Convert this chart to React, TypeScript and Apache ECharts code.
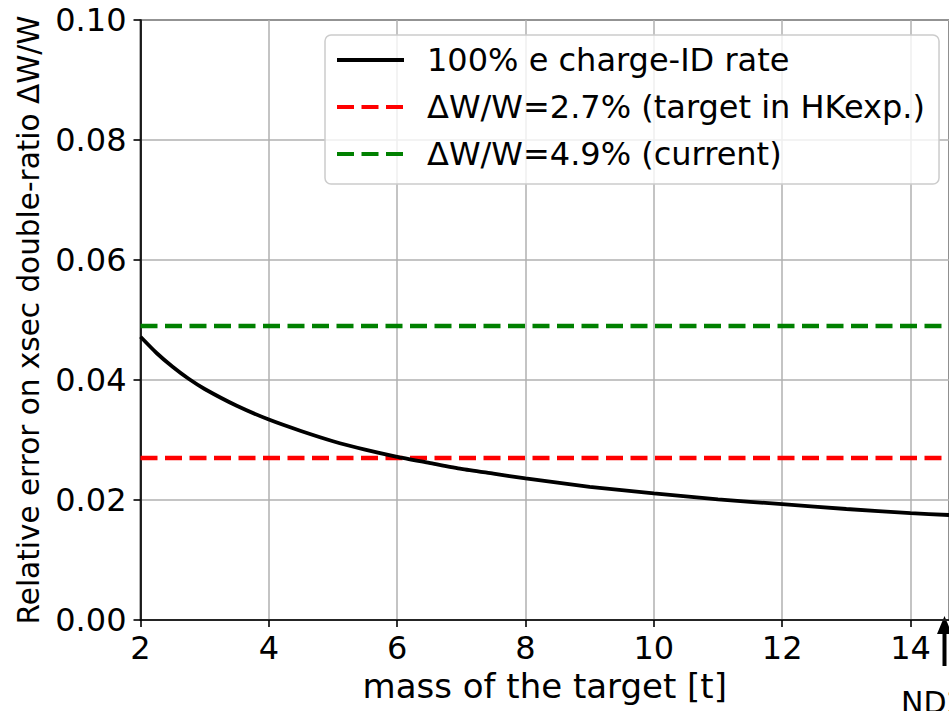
import React, { useEffect, useRef } from "react";
import * as echarts from "echarts";

const massValues = [2, 2.25, 2.5, 2.75, 3, 3.5, 4, 4.5, 5, 5.5, 6, 6.5, 7, 7.5, 8, 9, 10, 11, 12, 13, 14, 14.6];
const errorValues = [0.0472, 0.0445, 0.0422, 0.0402, 0.0385, 0.0357, 0.0334, 0.0315, 0.0298, 0.0284, 0.0272, 0.0262, 0.0252, 0.0244, 0.0236, 0.0222, 0.0211, 0.0201, 0.0193, 0.0185, 0.0178, 0.0175];
const targetLevel = 0.027;
const currentLevel = 0.049;
const xRange = [2, 14.6];
const yRange = [0, 0.1];
const seriesNames = ["100% e charge-ID rate", "ΔW/W=2.7% (target in HKexp.)", "ΔW/W=4.9% (current)"];
const xName = "mass of the target [t]";
const yName = "Relative error on xsec double-ratio ΔW/W";
const annotationText = "ND280";

const FONT = "DejaVu Sans";

export default function App() {
  const ref = useRef<HTMLDivElement>(null);
  useEffect(() => {
    if (!ref.current) return;
    const chart = echarts.init(ref.current, null, { renderer: "svg" });
    const curve = massValues.map((m, i) => [m, errorValues[i]]);
    chart.setOption({
      animation: false,
      backgroundColor: "#ffffff",
      grid: {
        left: 140.5,
        top: 20,
        width: 810,
        height: 600,
        containLabel: false,
        show: true,
        borderColor: "#000",
        borderWidth: 1.6,
        backgroundColor: "transparent",
      },
      xAxis: {
        type: "value",
        min: xRange[0],
        max: xRange[1],
        interval: 2,
        name: xName,
        nameLocation: "middle",
        nameGap: 47,
        nameTextStyle: { fontFamily: FONT, fontSize: 34, color: "#000" },
        axisLine: { show: true, onZero: false, lineStyle: { color: "#000", width: 1.6 } },
        axisTick: { show: true, inside: false, length: 7, lineStyle: { color: "#000", width: 1.6 } },
        axisLabel: { fontFamily: FONT, fontSize: 32, color: "#000", margin: 12, showMaxLabel: false },
        splitLine: { show: true, lineStyle: { color: "#b0b0b0", width: 1.5 } },
      },
      yAxis: {
        type: "value",
        min: yRange[0],
        max: yRange[1],
        interval: 0.02,
        name: yName,
        nameLocation: "middle",
        nameGap: 97,
        nameTextStyle: { fontFamily: FONT, fontSize: 29.5, color: "#000" },
        axisLine: { show: true, onZero: false, lineStyle: { color: "#000", width: 1.6 } },
        axisTick: { show: true, inside: false, length: 7, lineStyle: { color: "#000", width: 1.6 } },
        axisLabel: {
          fontFamily: FONT,
          fontSize: 32,
          color: "#000",
          margin: 14,
          formatter: (v: number) => v.toFixed(2),
        },
        splitLine: { show: true, lineStyle: { color: "#b0b0b0", width: 1.5 } },
      },
      legend: {
        orient: "vertical",
        left: 325,
        top: 35,
        padding: [7, 14, 12, 10],
        itemWidth: 67,
        itemHeight: 14,
        itemGap: 11,
        backgroundColor: "rgba(255,255,255,0.8)",
        borderColor: "#cccccc",
        borderWidth: 1.5,
        borderRadius: 6,
        itemStyle: { opacity: 0 },
        lineStyle: { width: 4 },
        textStyle: { fontFamily: FONT, fontSize: 32, color: "#000", lineHeight: 36, padding: [0, 0, 0, 18] },
        data: seriesNames,
      },
      series: [
        {
          name: seriesNames[0],
          type: "line",
          data: curve,
          symbol: "none",
          smooth: 0.2,
          lineStyle: { color: "#000000", width: 3.8, type: "solid" },
          itemStyle: { color: "#000000" },
          z: 3,
        },
        {
          name: seriesNames[1],
          type: "line",
          data: [[xRange[0], targetLevel], [xRange[1], targetLevel]],
          symbol: "none",
          lineStyle: { color: "#ff0000", width: 4.5, type: [17, 7.5] },
          itemStyle: { color: "#ff0000" },
          z: 2,
        },
        {
          name: seriesNames[2],
          type: "line",
          data: [[xRange[0], currentLevel], [xRange[1], currentLevel]],
          symbol: "none",
          lineStyle: { color: "#008000", width: 4.5, type: [17, 7.5] },
          itemStyle: { color: "#008000" },
          z: 2,
        },
      ],
      graphic: [
        {
          type: "rect",
          shape: { x: 942.5, y: 630, width: 4, height: 36 },
          style: { fill: "#000" },
        },
        {
          type: "polygon",
          shape: { points: [[944.5, 616], [937, 634], [952, 634]] },
          style: { fill: "#000" },
        },
        {
          type: "text",
          x: 901,
          y: 687,
          style: { text: annotationText, fontFamily: FONT, fontSize: 30, fill: "#000", textVerticalAlign: "top" },
        },
      ],
    });
    return () => chart.dispose();
  }, []);
  return <div ref={ref} style={{ width: 949, height: 711, position: "absolute", left: 0, top: 0 }} />;
}
